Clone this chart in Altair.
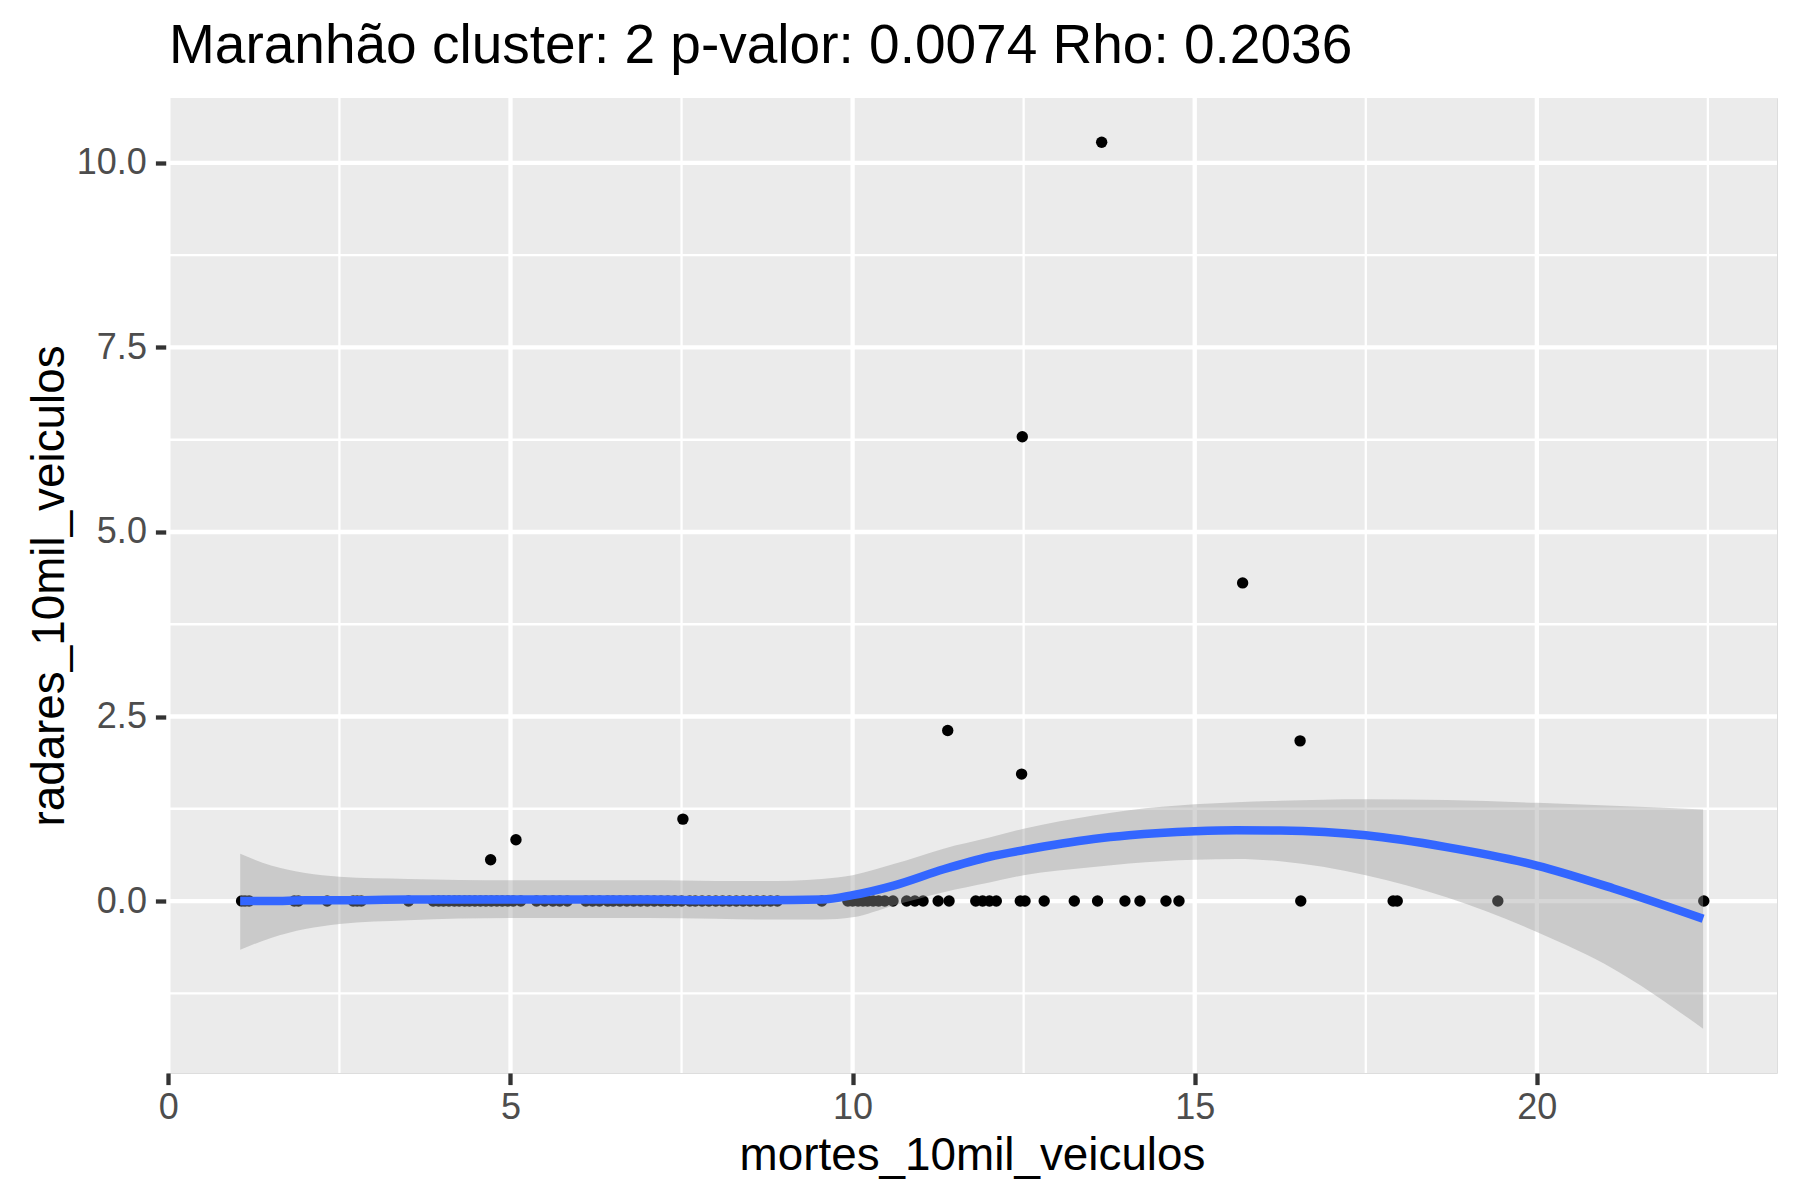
import altair as alt
import pandas as pd

TITULO = "Maranhão cluster: 2 p-valor: 0.0074 Rho: 0.2036"
FONTE = "Liberation Sans"

# municipios sem radar (radares_10mil_veiculos = 0)
mortes_sem_radar = [
    1.07, 1.12, 1.18, 1.84, 1.9, 2.32, 2.7, 2.76, 2.82, 3.51,
    3.87, 3.95, 4.02, 4.1, 4.18, 4.25, 4.33, 4.4, 4.48, 4.56,
    4.64, 4.72, 4.8, 4.88, 4.96, 5.04, 5.15, 5.38, 5.5, 5.62,
    5.72, 5.83, 6.1, 6.2, 6.3, 6.42, 6.5, 6.6, 6.7, 6.8,
    6.9, 7.0, 7.1, 7.2, 7.3, 7.4, 7.5, 7.62, 7.7, 7.8,
    7.9, 8.0, 8.1, 8.2, 8.3, 8.4, 8.5, 8.6, 8.7, 8.8,
    8.9, 9.55, 9.93, 10.0, 10.08, 10.15, 10.22, 10.3, 10.38, 10.47,
    10.59, 10.79, 10.91, 11.03, 11.25, 11.41, 11.8, 11.9, 12.0, 12.1,
    12.45, 12.52, 12.8, 13.24, 13.58, 13.98, 14.2, 14.58, 14.77, 16.55,
    17.9, 17.96, 19.43, 22.44,
]

# municipios com radar
mortes_com_radar = [4.71, 5.08, 7.52, 11.39, 12.47, 12.48, 13.64, 15.70, 16.54]
radares_com_radar = [0.56, 0.83, 1.11, 2.31, 1.72, 6.29, 10.28, 4.31, 2.17]

# curva loess e intervalo de confianca
fit_x = [1.05, 1.5, 2.0, 2.5, 3.5, 5.0, 6.0, 7.0, 8.0, 8.65, 9.55, 10.0, 10.6,
         11.33, 12.0, 12.5, 13.52, 14.04, 15.0, 15.61, 16.25, 17.5, 18.68,
         20.0, 21.12, 22.43]
fit_y = [0.0, 0.0, 0.01, 0.01, 0.02, 0.02, 0.02, 0.02, 0.01, 0.01, 0.02, 0.08, 0.21,
         0.43, 0.6, 0.69, 0.84, 0.89, 0.945, 0.96, 0.955, 0.89, 0.73,
         0.48, 0.17, -0.24]
fit_hi = [0.64, 0.48, 0.38, 0.33, 0.3, 0.28, 0.28, 0.28, 0.27, 0.27, 0.3, 0.35, 0.5,
          0.71, 0.86, 0.98, 1.16, 1.23, 1.31, 1.34, 1.36, 1.38, 1.37,
          1.33, 1.29, 1.24]
fit_lo = [-0.66, -0.5, -0.38, -0.31, -0.26, -0.23, -0.23, -0.23, -0.24, -0.25, -0.25, -0.22, -0.06,
          0.12, 0.25, 0.35, 0.46, 0.51, 0.56, 0.57, 0.54, 0.35, 0.05,
          -0.42, -0.92, -1.73]

x_ticks = [0, 5, 10, 15, 20]
y_ticks = [0, 2.5, 5, 7.5, 10]
x_minor = [2.5, 7.5, 12.5, 17.5, 22.5]
y_minor = [-1.25, 1.25, 3.75, 6.25, 8.75]

pontos = pd.DataFrame({
    "mortes": mortes_sem_radar + mortes_com_radar,
    "radares": [0.0] * len(mortes_sem_radar) + radares_com_radar,
})
curva = pd.DataFrame({"mortes": fit_x, "radares": fit_y, "lo": fit_lo, "hi": fit_hi})

W, H = 1610, 975
xs = alt.Scale(domain=[-0.02, 23.51], nice=False, zero=False)
ys = alt.Scale(domain=[-2.33, 10.88], nice=False, zero=False)

eixo_comum = dict(
    domain=False, grid=False,
    tickColor="#333333", tickWidth=4.3, tickSize=11.6,
    labelColor="#4D4D4D", labelFontSize=36, labelFont=FONTE,
    titleFontSize=45.8, titleFont=FONTE, titleColor="black",
    titleFontWeight="normal", titleBaseline="alphabetic",
)
x_axis = alt.Axis(values=x_ticks, format="d", title="mortes_10mil_veiculos",
                  labelPadding=6, titleY=96, titleX=W / 2, titleAlign="center",
                  **eixo_comum)
y_axis = alt.Axis(values=y_ticks, format=".1f", title="radares_10mil_veiculos",
                  labelPadding=9, titleX=-104, titleY=H / 2, titleAngle=270,
                  titleAlign="center", **eixo_comum)

X = alt.X("mortes:Q", scale=xs, axis=x_axis)
Y = alt.Y("radares:Q", scale=ys, axis=y_axis)

# painel cinza (como theme_gray do ggplot)
fundo = (
    alt.Chart(pd.DataFrame({"k": [0]}))
    .mark_rect(color="#EBEBEB")
    .encode(x=alt.value(0), x2=alt.value(W), y=alt.value(0), y2=alt.value(H))
)


def grade(campo, valores, largura):
    enc = {"x": X} if campo == "mortes" else {"y": Y}
    return (
        alt.Chart(pd.DataFrame({campo: valores}))
        .mark_rule(color="white", strokeWidth=largura)
        .encode(**enc)
    )


pts = alt.Chart(pontos).mark_circle(size=130, color="black", opacity=1).encode(x=X, y=Y)

faixa = (
    alt.Chart(curva)
    .mark_area(color="#999999", opacity=0.4, interpolate="monotone")
    .encode(x=X, y=alt.Y("lo:Q", scale=ys, axis=y_axis), y2="hi:Q")
)

linha = (
    alt.Chart(curva)
    .mark_line(color="#3366FF", strokeWidth=8.5, interpolate="monotone")
    .encode(x=X, y=Y)
)

titulo = (
    alt.Chart(pd.DataFrame({"k": [0]}))
    .mark_text(align="left", baseline="alphabetic", fontSize=55, font=FONTE,
               color="black")
    .encode(x=alt.value(2), y=alt.value(-35), text=alt.value(TITULO))
)

chart = (
    alt.layer(
        fundo,
        grade("mortes", x_minor, 2.3), grade("radares", y_minor, 2.3),
        grade("mortes", x_ticks, 4.3), grade("radares", y_ticks, 4.3),
        pts, faixa, linha, titulo,
    )
    .properties(
        width=W,
        height=H,
        autosize=alt.AutoSizeParams(type="none"),
        padding={"left": 159, "top": 90, "right": 15, "bottom": 119},
    )
    .configure_view(stroke="transparent", strokeWidth=0)
    .configure(background="white", font=FONTE)
)

chart.save("out.html", embed_options={"renderer": "svg", "actions": False})
